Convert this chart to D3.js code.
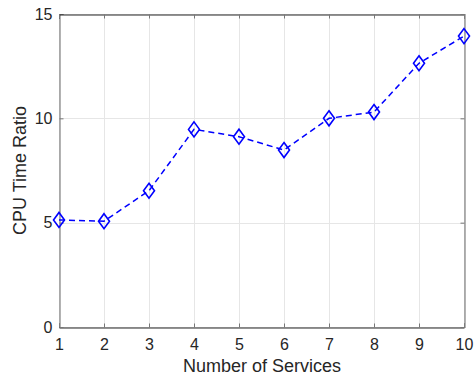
<!DOCTYPE html>
<html>
<head>
<meta charset="utf-8">
<script src="https://cdn.jsdelivr.net/npm/d3@7"></script>
<style>
  html, body { margin: 0; padding: 0; background: #fff; }
  text { font-family: "Liberation Sans", Arial, sans-serif; fill: #262626; }
</style>
</head>
<body>
<svg id="chart" width="476" height="375"></svg>
<script>
// Number of services vs. CPU time ratio
const services = [1, 2, 3, 4, 5, 6, 7, 8, 9, 10];
const cpuRatio = [5.13, 5.07, 6.53, 9.47, 9.12, 8.48, 10.0, 10.3, 12.64, 13.94];
const xTicks = [1, 2, 3, 4, 5, 6, 7, 8, 9, 10];
const yTicks = [0, 5, 10, 15];

const svg = d3.select("#chart");
const plotL = 59, plotR = 464, plotT = 14, plotB = 327;

const x = d3.scaleLinear().domain([1, 10]).range([plotL, plotR]);
const y = d3.scaleLinear().domain([0, 15]).range([plotB, plotT]);

// grid
const grid = svg.append("g").attr("stroke", "#e6e6e6").attr("stroke-width", 1);
xTicks.forEach(t => grid.append("line")
  .attr("x1", Math.round(x(t)) + 0.5).attr("x2", Math.round(x(t)) + 0.5)
  .attr("y1", plotT).attr("y2", plotB));
yTicks.forEach(t => grid.append("line")
  .attr("x1", plotL).attr("x2", plotR)
  .attr("y1", Math.round(y(t)) + 0.5).attr("y2", Math.round(y(t)) + 0.5));

// axes (bottom and left with labels, top and right as box edges)
const xAxis = d3.axisBottom(x).tickValues(xTicks).tickSize(-4).tickPadding(8).tickFormat(d3.format("d"));
const yAxis = d3.axisLeft(y).tickValues(yTicks).tickSize(-4).tickPadding(7).tickFormat(d3.format("d"));

const gx = svg.append("g").attr("transform", `translate(0,${plotB + 0.5})`).call(xAxis);
const gy = svg.append("g").attr("transform", `translate(${plotL + 0.5},0)`).call(yAxis);
const gxTop = svg.append("g").attr("transform", `translate(0,${plotT + 0.5})`)
  .call(d3.axisTop(x).tickValues(xTicks).tickSize(-4).tickFormat(""));
const gyRight = svg.append("g").attr("transform", `translate(${plotR + 0.5},0)`)
  .call(d3.axisRight(y).tickValues(yTicks).tickSize(-4).tickFormat(""));

[gx, gxTop].forEach(g => {
  g.select(".domain").attr("stroke", "#262626").attr("stroke-width", 1);
  g.selectAll(".tick line").attr("stroke", "#777");
});
[gy, gyRight].forEach(g => {
  g.select(".domain").attr("stroke", "#808080").attr("stroke-width", 1.2);
  g.selectAll(".tick line").attr("stroke", "#777");
});
svg.selectAll(".tick text").attr("font-size", 16).attr("fill", "#262626")
  .attr("font-family", "Liberation Sans, Arial, sans-serif");
gx.selectAll(".tick text").attr("dy", null).attr("y", 22);

// axis titles
svg.append("text").attr("x", (plotL + plotR) / 2 + 0.5).attr("y", 372)
  .attr("text-anchor", "middle").attr("font-size", 18).text("Number of Services");
svg.append("text").attr("transform", `translate(26,${(plotT + plotB) / 2}) rotate(-90)`)
  .attr("text-anchor", "middle").attr("font-size", 18).text("CPU Time Ratio");

// series line
const line = d3.line().x((d, i) => x(services[i])).y(d => y(d));
svg.append("path").datum(cpuRatio)
  .attr("d", line)
  .attr("fill", "none").attr("stroke", "#0000ff").attr("stroke-width", 1.5)
  .attr("stroke-dasharray", "6,4");

// diamond markers
const hw = 5.5, hh = 7.5;
svg.append("g").selectAll("path").data(cpuRatio).join("path")
  .attr("d", (d, i) => {
    const cx = x(services[i]), cy = y(d);
    return `M${cx},${cy - hh}L${cx + hw},${cy}L${cx},${cy + hh}L${cx - hw},${cy}Z`;
  })
  .attr("fill", "none").attr("stroke", "#0000ff").attr("stroke-width", 1.6);
</script>
</body>
</html>
